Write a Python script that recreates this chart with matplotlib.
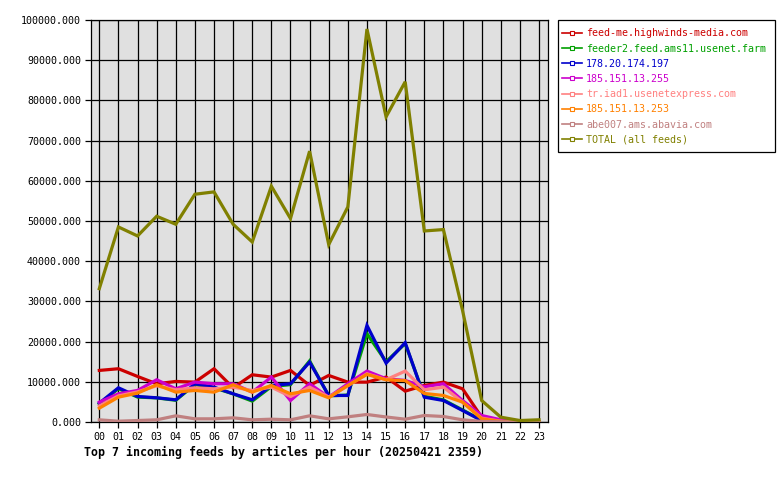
import matplotlib
matplotlib.use("Agg")
import matplotlib.pyplot as plt
from matplotlib.lines import Line2D
from matplotlib.patches import Rectangle
from matplotlib.ticker import FuncFormatter, MultipleLocator

hours = ["%02d" % h for h in range(24)]

feed_me = [12830, 13250, 11330, 9500, 10090, 9920, 13250, 8500, 11750, 11170, 12830, 9090,
           11580, 9920, 9920, 11170, 7680, 9090, 9920, 8260, 1200, 370, 100, 50]
feeder2 = [4500, 8300, 6200, 6000, 5400, 9300, 8500, 7000, 5200, 8800, 9300, 15200,
           6500, 6700, 21970, 15000, 19500, 6400, 5500, 3000, 450, 50, 0, 0]
ip_197 = [4690, 8510, 6350, 6020, 5520, 9510, 8670, 7020, 5520, 9090, 9510, 14900,
          6600, 6600, 24030, 14650, 19730, 6180, 5350, 2860, 370, 0, 0, 0]
ip_255 = [4940, 7020, 7850, 10510, 8260, 9920, 9510, 9510, 7430, 11170, 5350, 9510,
          6180, 9510, 12660, 10760, 10340, 8760, 9510, 5350, 1620, 540, 100, 0]
usenetexpress = [4000, 6500, 7500, 9000, 8000, 8500, 8260, 8670, 7850, 8670, 6350, 8670,
                 6180, 9000, 12000, 10510, 12660, 8000, 8670, 4940, 950, 200, 0, 0]
ip_253 = [3440, 6180, 7180, 9260, 7430, 7850, 7430, 9260, 7430, 9090, 7020, 7850,
          6020, 9090, 11830, 10510, 10300, 7100, 6600, 4940, 790, 100, 0, 0]
abavia = [540, 200, 370, 540, 1540, 790, 790, 1040, 540, 700, 540, 1540,
          790, 1290, 1870, 1250, 700, 1620, 1370, 540, 150, 50, 0, 0]
total = [33170, 48520, 46280, 51180, 49190, 56660, 57240, 49190, 44780, 58650, 50610, 67370,
         44130, 53500, 97760, 75920, 84630, 47520, 47870, 27750, 5350, 1200, 370, 550]

names = ["feed-me.highwinds-media.com", "feeder2.feed.ams11.usenet.farm", "178.20.174.197",
         "185.151.13.255", "tr.iad1.usenetexpress.com", "185.151.13.253",
         "abe007.ams.abavia.com", "TOTAL (all feeds)"]
series = [feed_me, feeder2, ip_197, ip_255, usenetexpress, ip_253, abavia, total]
colors = ["#cc0000", "#00a000", "#0000cc", "#cc00cc", "#ff8080", "#ff8000", "#c08080", "#808000"]

mono = "DejaVu Sans Mono"
W, H = 780, 480
fig = plt.figure(figsize=(7.8, 4.8), dpi=100)
ax = fig.add_axes([90.7 / W, 1 - 422 / H, (548 - 90.7) / W, (422 - 20) / H])
ax.set_facecolor("#e0e0e0")

x = list(range(24))
for s, c in zip(series, colors):
    ax.plot(x, s, color=c, lw=2.3, solid_joinstyle="miter", zorder=3)

ax.set_xlim(-0.45, 23.47)
ax.set_ylim(0, 100000)
ax.set_xticks(x)
ax.set_xticklabels(hours)
ax.yaxis.set_major_locator(MultipleLocator(10000))
ax.yaxis.set_major_formatter(FuncFormatter(lambda v, p: "%.3f" % v))
ax.grid(True, color="black", lw=0.9, zorder=1)
ax.set_axisbelow(True)
for sp in ax.spines.values():
    sp.set_color("black")
    sp.set_linewidth(0.9)
ax.tick_params(axis="both", direction="out", length=4, width=0.9, colors="black",
               labelsize=7.2, pad=3)
for lab in ax.get_xticklabels() + ax.get_yticklabels():
    lab.set_family(mono)

fig.text(84 / W, 1 - 452 / H, "Top 7 incoming feeds by articles per hour (20250421 2359)",
         family=mono, fontweight="bold", fontsize=8.35, va="center", ha="left")

# legend frame
fig.patches.append(Rectangle((558 / W, 1 - 152 / H), (775 - 558) / W, (152 - 20) / H,
                             transform=fig.transFigure, facecolor="white",
                             edgecolor="black", lw=0.9, zorder=1))

handles = [Line2D([0], [0], color=c, lw=1.2, marker="s", markersize=3,
                  markerfacecolor="white", markeredgecolor=c, markeredgewidth=0.8)
           for c in colors]
leg = fig.legend(handles, names, loc="upper left",
                 bbox_to_anchor=(562 / W, 1 - 28.3 / H), bbox_transform=fig.transFigure,
                 borderaxespad=0, prop={"family": mono, "size": 7.2}, frameon=False,
                 handlelength=2.0, handletextpad=0.4, labelspacing=0.52, borderpad=0,
                 markerscale=1)
leg.set_zorder(2)
for t, c in zip(leg.get_texts(), colors):
    t.set_color(c)

fig.savefig("out.png", dpi=100)
